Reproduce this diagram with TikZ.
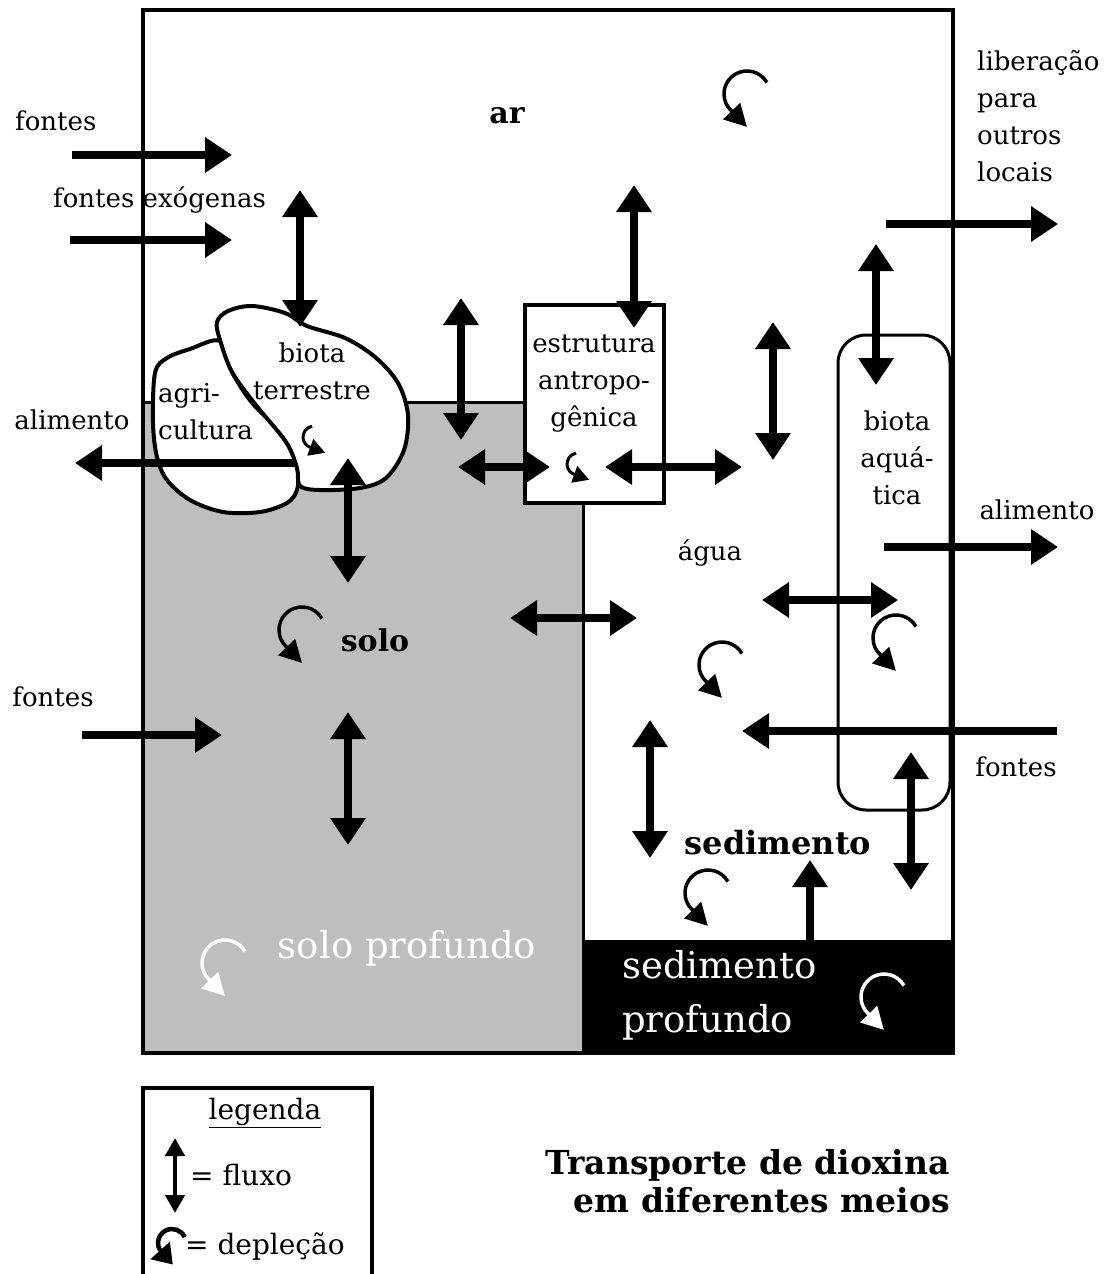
\documentclass[tikz,border=0pt]{standalone}
\usepackage{fontspec}
\setmainfont{DejaVu Serif}
\usetikzlibrary{arrows.meta}
\definecolor{soilgray}{RGB}{190,190,190}
\tikzset{
  flow/.style={line width=8pt,{Triangle[length=27pt,width=34pt]}-{Triangle[length=27pt,width=34pt]}},
  feed/.style={line width=8pt,-{Triangle[length=27pt,width=34pt]}},
  txt/.style={font=\fontsize{26}{37}\selectfont, inner sep=0pt, align=center},
  keytxt/.style={font=\fontsize{28}{37}\selectfont, inner sep=0pt},
  bigtxt/.style={font=\fontsize{37}{54}\selectfont, inner sep=0pt, align=left},
  boldtxt/.style={font=\bfseries\fontsize{30}{36}\selectfont, inner sep=0pt},
  % depletion symbol: open arc with a head at its lower end
  depl/.pic={
    \draw[line width=3.5pt] (30:23pt) arc[start angle=30,end angle=228,radius=23pt];
    \draw[line width=3.5pt,-{Triangle[length=22pt,width=23pt]}] (228:23pt) -- ++(-46:22pt);
  },
  depls/.pic={
    \draw[line width=3pt] (100:11pt) arc[start angle=100,end angle=250,radius=11pt];
    \draw[line width=3pt,-{Triangle[length=16pt,width=17pt]}] (250:11pt) -- ++(-20:16pt);
  },
  deplkey/.pic={
    \draw[line width=4.5pt] (25:14pt) arc[start angle=25,end angle=212,radius=14pt];
    \draw[line width=4.5pt,-{Triangle[length=19pt,width=25pt]}] (212:14pt) -- ++(-48:19pt);
  },
}
\begin{document}
\begin{tikzpicture}[x=1pt,y=-1pt]
\path[use as bounding box] (0,0) rectangle (1107,1274);
\clip (0,0) rectangle (1107,1274);
\fill[white] (0,0) rectangle (1107,1274);

% compartments
\fill[soilgray] (143,402) -- (525,402) -- (525,503) -- (583,503) -- (583,1053) -- (143,1053) -- cycle;
\draw[line width=3pt] (143,402) -- (525,402) (583,503) -- (583,1053);
\fill[black] (583,940) rectangle (953,1053);
\draw[line width=4pt, fill=white] (525,305) rectangle (664,503);
\draw[line width=3pt, rounded corners=28pt] (838,335) rectangle (950,810);

% agriculture blob
\draw[line width=4pt, fill=white] plot[smooth cycle, tension=0.55] coordinates {
  (220,341) (232,372) (253,404) (282,432) (294,452) (298,472) (297,490) (287,503)
  (260,512) (223,512) (190,500) (167,480) (157,457) (153,423) (155,373) (167,358) (190,349)};

% food leaving through agriculture
\coordinate (foodA) at (296,463);
\coordinate (foodB) at (75,463);
\draw[feed] (foodA) -- (foodB);

% terrestrial biota blob
\draw[line width=4pt, fill=white] plot[smooth cycle, tension=0.55] coordinates {
  (220,340) (217,322) (228,311) (252,306) (285,313) (307,326) (345,338) (375,357)
  (398,383) (408,415) (404,450) (386,478) (360,488) (320,490) (300,486) (297,468)
  (286,442) (255,404) (232,372)};

% arrow end points
\coordinate (s1a) at (72,155);   \coordinate (s1b) at (232,155);
\coordinate (s2a) at (70,240);   \coordinate (s2b) at (232,240);
\coordinate (v1a) at (300,190);  \coordinate (v1b) at (300,327);
\coordinate (v2a) at (461,298);  \coordinate (v2b) at (461,440);
\coordinate (v3a) at (634,185);  \coordinate (v3b) at (634,328);
\coordinate (v4a) at (773,322);  \coordinate (v4b) at (773,460);
\coordinate (v5a) at (876,244);  \coordinate (v5b) at (876,385);
\coordinate (relA) at (886,224); \coordinate (relB) at (1058,224);
\coordinate (v6a) at (348,458);  \coordinate (v6b) at (348,583);
\coordinate (h1a) at (458,467);  \coordinate (h1b) at (550,467);
\coordinate (h2a) at (605,467);  \coordinate (h2b) at (742,467);
\coordinate (h3a) at (510,618);  \coordinate (h3b) at (637,618);
\coordinate (h4a) at (762,600);  \coordinate (h4b) at (898,600);
\coordinate (fishA) at (884,547); \coordinate (fishB) at (1058,547);
\coordinate (s3a) at (82,735);   \coordinate (s3b) at (222,735);
\coordinate (v7a) at (348,712);  \coordinate (v7b) at (348,845);
\coordinate (s4a) at (1057,731); \coordinate (s4b) at (742,731);
\coordinate (v8a) at (650,720);  \coordinate (v8b) at (650,858);
\coordinate (v9a) at (911,752);  \coordinate (v9b) at (911,890);
\coordinate (upA) at (810,940);  \coordinate (upB) at (810,860);

\draw[feed] (s1a) -- (s1b);
\draw[feed] (s2a) -- (s2b);
\draw[flow] (v1a) -- (v1b);
\draw[flow] (v2a) -- (v2b);
\draw[flow] (v3a) -- (v3b);
\draw[flow] (v4a) -- (v4b);
\draw[flow] (v5a) -- (v5b);
\draw[feed] (relA) -- (relB);
\draw[flow] (v6a) -- (v6b);
\draw[flow] (h1a) -- (h1b);
\draw[flow] (h2a) -- (h2b);
\draw[flow] (h3a) -- (h3b);
\draw[flow] (h4a) -- (h4b);
\draw[feed] (fishA) -- (fishB);
\draw[feed] (s3a) -- (s3b);
\draw[flow] (v7a) -- (v7b);
\draw[feed] (s4a) -- (s4b);
\draw[flow] (v8a) -- (v8b);
\draw[flow] (v9a) -- (v9b);
\draw[feed] (upA) -- (upB);

% depletion symbols
\pic at (747,94) {depl};
\pic at (302,630) {depl};
\pic at (722,665) {depl};
\pic at (896,638) {depl};
\pic at (708,893) {depl};
\pic[white] at (225,963) {depl};
\pic[white] at (884,997) {depl};
\pic at (314,437) {depls};
\pic at (578,464) {depls};

% outer frame
\draw[line width=4.5pt] (143,10) rectangle (953,1053);

% labels
\node[boldtxt] (ar) at (507,116) {ar};
\node[txt, anchor=west] (src1) at (15,121) {fontes};
\node[txt, anchor=west] (src2) at (53,200) {fontes exógenas};
\node[txt, anchor=west, align=left] (rel) at (977,116) {liberação\\para\\outros\\locais};
\node[txt] (biot) at (312,371) {biota\\terrestre};
\node[txt, anchor=west, align=left] (agri) at (158,412) {agri-\\cultura};
\node[txt] (food1) at (72,420) {alimento};
\node[txt] (estr) at (594,384) {estrutura\\antropo-\\gênica};
\node[txt] (bioa) at (897,458) {biota\\aquá-\\tica};
\node[txt] (food2) at (1037,510) {alimento};
\node[txt] (agua) at (710,553) {água};
\node[boldtxt] (solo) at (375,640) {solo};
\node[txt] (src3) at (53,697) {fontes};
\node[txt] (src4) at (1016,767) {fontes};
\node[boldtxt, font=\bfseries\fontsize{32}{38}\selectfont] (sed) at (778,843) {sedimento};
\node[bigtxt, text=white] (solop) at (407,948) {solo profundo};
\node[bigtxt, text=white, anchor=west] (sedp) at (622,995) {sedimento\\profundo};

% key
\draw[line width=4pt] (143,1088) rectangle (372,1290);
\node[keytxt] (key) at (265,1113) {\underline{legenda}};
\coordinate (keyA) at (175,1138);
\coordinate (keyB) at (175,1213);
\draw[line width=4.5pt,{Triangle[length=18pt,width=19pt]}-{Triangle[length=18pt,width=19pt]}] (keyA) -- (keyB);
\node[keytxt, anchor=west] (keyf) at (190,1175) {= fluxo};
\pic at (172,1243) {deplkey};
\node[keytxt, anchor=west] (keyd) at (185,1247) {= depleção};

% title
\node[font=\bfseries\fontsize{33}{38}\selectfont, align=right, anchor=east, inner sep=0pt] (title) at (950,1181)
  {Transporte de dioxina\\em diferentes meios};
\end{tikzpicture}
\end{document}
